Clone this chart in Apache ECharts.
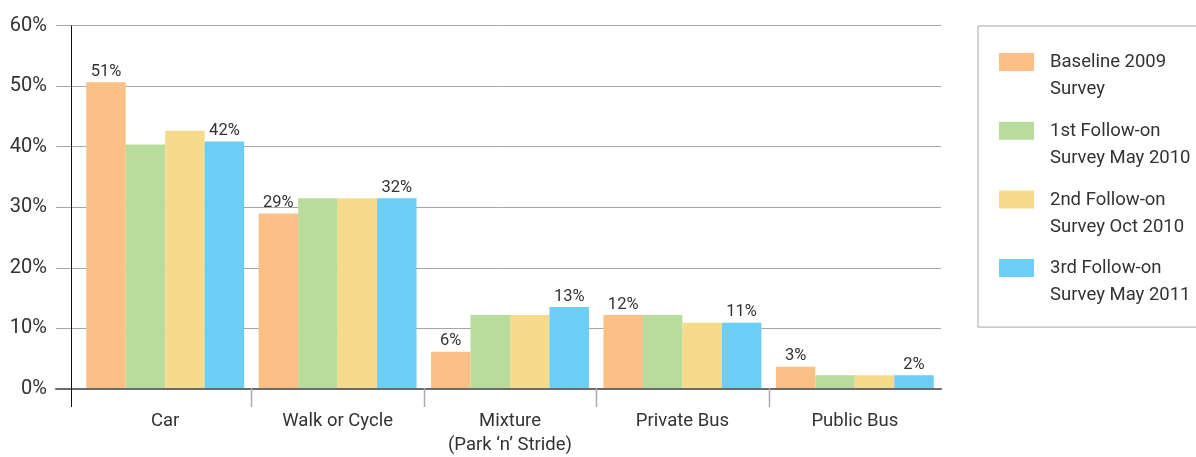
<!DOCTYPE html>
<html>
<head>
<meta charset="utf-8">
<script src="https://cdn.jsdelivr.net/npm/echarts@6/dist/echarts.min.js"></script>
<style>
html,body{margin:0;padding:0;background:#fff;}
#chart{width:1196px;height:457px;}
</style>
</head>
<body>
<div id="chart"></div>
<script>
const categories = ['Car', 'Walk or Cycle', 'Mixture\n(Park \u2018n\u2019 Stride)', 'Private Bus', 'Public Bus'];
const seriesNames = ['Baseline 2009\nSurvey', '1st Follow-on\nSurvey May 2010', '2nd Follow-on\nSurvey Oct 2010', '3rd Follow-on\nSurvey May 2011'];
const baseline2009 = [50.6, 28.9, 6.0, 12.1, 3.5];
const followOn1 = [40.3, 31.4, 12.1, 12.1, 2.1];
const followOn2 = [42.6, 31.4, 12.1, 10.8, 2.1];
const followOn3 = [40.8, 31.4, 13.4, 10.8, 2.1];
const labelsBaseline = ['51%', '29%', '6%', '12%', '3%'];
const labelsFollowOn3 = ['42%', '32%', '13%', '11%', '2%'];
const yTicks = [0, 10, 20, 30, 40, 50, 60];

const colors = ['#FCC086', '#B8DC9B', '#F7DA8C', '#6CCEF4'];
const FONT = 'Roboto, sans-serif';

const chart = echarts.init(document.getElementById('chart'), null, {renderer: 'canvas'});

function barSeries(idx, data, labels) {
  return {
    name: seriesNames[idx],
    type: 'bar',
    xAxisIndex: 1,
    yAxisIndex: 1,
    data: data,
    barGap: '0%',
    barCategoryGap: '8.4%',
    itemStyle: {color: colors[idx]},
    emphasis: {disabled: true},
    label: labels ? {
      show: true,
      position: 'top',
      distance: 2,
      color: '#333',
      fontFamily: FONT,
      fontSize: 16.5,
      formatter: p => labels[p.dataIndex]
    } : {show: false}
  };
}

const option = {
  animation: false,
  backgroundColor: '#fff',
  grid: [
    {left: 56, right: 255, top: 25.5, bottom: 68},
    {left: 79, right: 255, top: 25.5, bottom: 68}
  ],
  xAxis: [
    {
      gridIndex: 0, type: 'value', min: 0, max: 1,
      axisLine: {show: true, lineStyle: {color: '#6b6b6b', width: 2}},
      axisTick: {show: false}, axisLabel: {show: false}, splitLine: {show: false}
    },
    {
      gridIndex: 1, type: 'category', data: categories,
      axisLine: {show: false}, axisTick: {show: false},
      axisLabel: {
        margin: 21, color: '#333', fontFamily: FONT, fontSize: 18.5, lineHeight: 24,
        interval: 0
      }
    }
  ],
  yAxis: [
    {
      gridIndex: 0, type: 'value', min: yTicks[0], max: yTicks[yTicks.length - 1], interval: 10,
      axisLine: {show: false}, axisTick: {show: false},
      axisLabel: {margin: 9, color: '#333', fontFamily: FONT, fontSize: 20, formatter: '{value}%'},
      splitLine: {show: true, lineStyle: {color: '#a6a6a6', width: 1}}
    },
    {
      gridIndex: 1, type: 'value', min: 0, max: 60, interval: 10, show: false,
      splitLine: {show: false}
    }
  ],
  legend: {
    orient: 'vertical',
    left: 978,
    top: 26,
    padding: [23, 6, 18, 21],
    itemGap: 14.7,
    itemWidth: 46,
    itemHeight: 46,
    icon: 'path://M0,0L35,0L35,18L0,18Z M0,46L46,46',
    borderColor: '#a8a8a8',
    borderWidth: 1,
    selectedMode: false,
    textStyle: {color: '#333', fontFamily: FONT, fontSize: 18.5, lineHeight: 27},
    data: seriesNames
  },
  series: [
    barSeries(0, baseline2009, labelsBaseline),
    barSeries(1, followOn1, null),
    barSeries(2, followOn2, null),
    barSeries(3, followOn3, labelsFollowOn3)
  ]
};
chart.setOption(option);

// decorations: vertical axis line and category separators below the baseline
const baseY = chart.convertToPixel({yAxisIndex: 1}, 0);
const topY = chart.convertToPixel({yAxisIndex: 1}, 60);
const graphics = [{
  type: 'line', shape: {x1: 71.5, y1: topY, x2: 71.5, y2: baseY + 19},
  style: {stroke: '#111', lineWidth: 1}, silent: true, z: 10
}];
for (let i = 1; i < categories.length; i++) {
  const xa = chart.convertToPixel({xAxisIndex: 1}, i - 1);
  const xb = chart.convertToPixel({xAxisIndex: 1}, i);
  const x = Math.round((xa + xb) / 2) + 0.5;
  graphics.push({
    type: 'line', shape: {x1: x, y1: baseY, x2: x, y2: baseY + 19},
    style: {stroke: '#aaa', lineWidth: 1.5}, silent: true, z: 10
  });
}
chart.setOption({graphic: graphics});
</script>
</body>
</html>
